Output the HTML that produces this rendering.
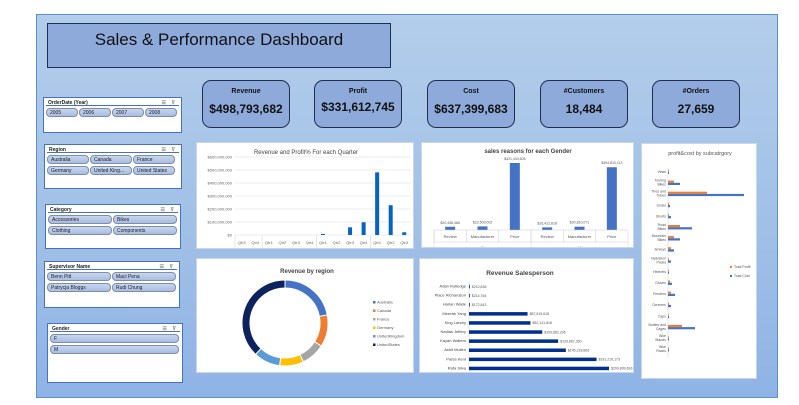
<!DOCTYPE html>
<html><head><meta charset="utf-8"><style>
*{box-sizing:border-box;margin:0;padding:0}
body{width:799px;height:405px;background:#fff;font-family:"Liberation Sans",sans-serif;position:relative;overflow:hidden}
.abs{position:absolute}
#panel{left:36px;top:14px;width:742px;height:384px;border:1px solid #5b8fd0;background:linear-gradient(#b3cdeb,#a0bfe6 60%,#8fb3e6)}
#title{left:47px;top:23px;width:344px;height:45px;background:#8eaadb;border:1px solid #1f2f50;font-size:17px;text-align:center;padding-top:6px;color:#111}
.kpi{width:88px;height:48px;background:#8eaadb;border:1px solid #1f2f50;border-radius:9px;text-align:center;color:#111}
.kpi b{display:block;font-size:7px;margin-top:7px}
.kpi span{display:block;font-size:12px;font-weight:bold;margin-top:7px}
.slicer{background:#fff;border:1px solid #4472c4;font-size:5px;color:#222}
.slicer .hd{font-weight:bold;height:8px;padding:2px 2px;border-bottom:1px solid #4472c4;margin:0 2px}
.slicer .hd i{float:right;font-style:normal;color:#888;letter-spacing:2px}
.btns{display:flex;flex-wrap:wrap;gap:2px 1px;padding:2px 2px}
.btn{height:9px;border:1px solid #7f8ea8;border-radius:4px;background:linear-gradient(#c8d6ee,#a8bde2);font-size:5px;padding:1px 3px;white-space:nowrap;overflow:hidden}
.card{background:#fff;border:1px solid #c9d6ea}
svg text{font-family:"Liberation Sans",sans-serif}
</style></head><body>
<div id="panel" class="abs"></div>
<div id="title" class="abs">Sales &amp; Performance Dashboard</div>

<div class="abs kpi" style="left:202px;top:80px"><b>Revenue</b><span>$498,793,682</span></div>
<div class="abs kpi" style="left:314px;top:80px"><b>Profit</b><span style="margin-top:5px">$331,612,745</span></div>
<div class="abs kpi" style="left:427px;top:80px"><b>Cost</b><span>$637,399,683</span></div>
<div class="abs kpi" style="left:540px;top:80px"><b>#Customers</b><span>18,484</span></div>
<div class="abs kpi" style="left:652px;top:80px"><b>#Orders</b><span>27,659</span></div>

<div class="abs slicer" style="left:43px;top:97px;width:139px;height:36px">
<div class="hd">OrderDate (Year)<i>☰ ⊽</i></div>
<div class="btns"><div class="btn" style="width:32px">2005</div><div class="btn" style="width:32px">2006</div><div class="btn" style="width:32px">2007</div><div class="btn" style="width:32px">2008</div></div></div>

<div class="abs slicer" style="left:44px;top:144px;width:138px;height:45px">
<div class="hd">Region<i>☰ ⊽</i></div>
<div class="btns"><div class="btn" style="width:42px">Australia</div><div class="btn" style="width:42px">Canada</div><div class="btn" style="width:42px">France</div><div class="btn" style="width:42px">Germany</div><div class="btn" style="width:42px">United King...</div><div class="btn" style="width:42px">United States</div></div></div>

<div class="abs slicer" style="left:45px;top:204px;width:136px;height:45px">
<div class="hd">Category<i>☰ ⊽</i></div>
<div class="btns"><div class="btn" style="width:64px">Accessories</div><div class="btn" style="width:64px">Bikes</div><div class="btn" style="width:64px">Clothing</div><div class="btn" style="width:64px">Components</div></div></div>

<div class="abs slicer" style="left:44px;top:261px;width:136px;height:47px">
<div class="hd">Supervisor Name<i>☰ ⊽</i></div>
<div class="btns"><div class="btn" style="width:64px">Benn Pitt</div><div class="btn" style="width:64px">Maci Pena</div><div class="btn" style="width:64px">Patrycja Bloggs</div><div class="btn" style="width:64px">Rudi Chung</div></div></div>

<div class="abs slicer" style="left:47px;top:323px;width:136px;height:60px">
<div class="hd">Gender<i>☰ ⊽</i></div>
<div class="btns"><div class="btn" style="width:129px">F</div><div class="btn" style="width:129px">M</div></div></div>

<svg class="abs card" style="left:196px;top:142px" width="218" height="107" id="q"></svg>
<svg class="abs card" style="left:421px;top:142px" width="213" height="106" id="g"></svg>
<svg class="abs card" style="left:196px;top:258px" width="218" height="115" id="d"></svg>
<svg class="abs card" style="left:419px;top:258px" width="215" height="115" id="s"></svg>
<svg class="abs card" style="left:641px;top:143px" width="116" height="236" id="c"></svg>

<script>
const qYears=["2005","2006","2007","2008"];
const qCounts=[2,4,4,3];
const qLabels=["Qtr3","Qtr4","Qtr1","Qtr2","Qtr3","Qtr4","Qtr1","Qtr2","Qtr3","Qtr4","Qtr1","Qtr2","Qtr3"];
const qValues=[0,0,0,0,0,0,8,0,59,98,482,229,21];
const qTicks=[0,100,200,300,400,500,600];

const gGroups=["F","M"];
const gReasons=["Review","Manufacturer","Price"];
const gValues=[20438486,22509002,421434605,16412818,20810071,394810113];

const regNames=["Australia","Canada","France","Germany","United Kingdom","United States"];
const regValues=[22,12,9,9,10,38];

const spNames=["Adah Rutledge","Place Richardson","Harlan Wade","Meerab Yang","King Landry","Nadias Jeffery","Kayan Walters","Ashif Mullen","Parsa Kent","Rafa Silva"];
const spValues=[210836,214764,172843,87815818,92141818,109882295,133667350,145218863,191210173,209899693];

const subNames=["Vests","Touring Bikes","Tires and Tubes","Socks","Shorts","Road Bikes","Mountain Bikes","Jerseys","Hydration Packs","Helmets","Gloves","Fenders","Cleaners","Caps","Bottles and Cages","Bike Stands","Bike Racks"];
const subProfit=[0.3,6,39,1,1,12,6,3,1,0.5,2,3,1,0.5,14,0.5,0.5];
const subCost=[1,12,76,2,3,24,12,6,3,1,4,7,3,1,27,1,1];

const NS="http://www.w3.org/2000/svg";
function el(p,t,a,txt){const e=document.createElementNS(NS,t);for(const k in a)e.setAttribute(k,a[k]);if(txt!==undefined)e.textContent=txt;p.appendChild(e);return e;}
function fmt(v){return "$"+Math.round(v).toLocaleString("en-US");}

// Quarter chart
(function(){const s=document.getElementById("q");
let t=el(s,"text",{x:109,y:11,"font-size":6,"text-anchor":"middle",fill:"#444"},"Revenue and Profit% For each Quarter");

const x0=38,x1=214,y0=92,yT=14;const ys=v=>y0-(v/600)*(y0-yT);
qTicks.forEach(v=>{el(s,"line",{x1:x0,x2:x1,y1:ys(v),y2:ys(v),stroke:"#ddd","stroke-width":0.5});
 let l=el(s,"text",{x:x0-3,y:ys(v)+1.5,"font-size":4,"text-anchor":"end",fill:"#666"},v==0?"$0":"$"+v+",000,000");
 });
const bw=(x1-x0)/qLabels.length;
qValues.forEach((v,i)=>{const cx=x0+bw*(i+0.5);
 const b=el(s,"rect",{x:cx-2,y:ys(v),width:4,height:y0-ys(v),fill:"#0563c1"});
 
 el(s,"text",{x:cx,y:y0+9,"font-size":4,"text-anchor":"middle",fill:"#666"},qLabels[i]);});
el(s,"line",{x1:x0,x2:x1,y1:y0+14,y2:y0+14,stroke:"#ccc","stroke-width":0.5});
let k=0;qYears.forEach((yr,j)=>{const a=x0+bw*k,b=x0+bw*(k+qCounts[j]);
 el(s,"line",{x1:a,x2:a,y1:y0,y2:107,stroke:"#ccc","stroke-width":0.5});
 el(s,"text",{x:(a+b)/2,y:y0+19,"font-size":4,"text-anchor":"middle",fill:"#888"},yr);k+=qCounts[j];});
})();

// Gender chart
(function(){const s=document.getElementById("g");
let t=el(s,"text",{x:106,y:10,"font-size":6,"text-anchor":"middle","font-weight":"bold",fill:"#444"},"sales reasons for each Gender");

const x0=12,x1=206,y0=87,yT=20;const mx=421434605;const ys=v=>y0-(v/mx)*(y0-yT);
const n=gValues.length,bw=(x1-x0)/n;
gValues.forEach((v,i)=>{const cx=x0+bw*(i+0.5);
 const b=el(s,"rect",{x:cx-5,y:ys(v),width:10,height:y0-ys(v),fill:"#4472c4"});
 
 el(s,"text",{x:cx,y:ys(v)-3,"font-size":3.5,"text-anchor":"middle",fill:"#555"},fmt(v));
 el(s,"text",{x:cx,y:y0+8,"font-size":4,"text-anchor":"middle",fill:"#555"},gReasons[i%3]);
 el(s,"line",{x1:x0+bw*i,x2:x0+bw*i,y1:y0,y2:y0+12,stroke:"#ccc","stroke-width":0.5});});
el(s,"line",{x1:x0,x2:x1,y1:y0,y2:y0,stroke:"#ccc","stroke-width":0.5});
el(s,"line",{x1:x0,x2:x1,y1:y0+12,y2:y0+12,stroke:"#ccc","stroke-width":0.5});
gGroups.forEach((g,j)=>{el(s,"text",{x:x0+bw*(3*j+1.5),y:y0+19,"font-size":4,"text-anchor":"middle",fill:"#555"},g);
 el(s,"line",{x1:x0+bw*3*j,x2:x0+bw*3*j,y1:y0,y2:105,stroke:"#ccc","stroke-width":0.5});});
el(s,"line",{x1:x1,x2:x1,y1:y0,y2:105,stroke:"#ccc","stroke-width":0.5});
})();

// Donut
(function(){const s=document.getElementById("d");
let t=el(s,"text",{x:110,y:14,"font-size":6,"text-anchor":"middle","font-weight":"bold",fill:"#444"},"Revenue by region");

const cols=["#4472c4","#ed7d31","#a5a5a5","#ffc000","#5b9bd5","#0f2260"];
const cx=88,cy=64,R=43,r=35;const tot=regValues.reduce((a,b)=>a+b,0);let a=-Math.PI/2;
regValues.forEach((v,i)=>{const a2=a+v/tot*2*Math.PI;const L=a2-a>Math.PI?1:0;
 const p=(rr,ang)=>(cx+rr*Math.cos(ang)).toFixed(2)+" "+(cy+rr*Math.sin(ang)).toFixed(2);
 const e=el(s,"path",{d:`M${p(R,a)} A${R} ${R} 0 ${L} 1 ${p(R,a2)} L${p(r,a2)} A${r} ${r} 0 ${L} 0 ${p(r,a)} Z`,fill:cols[i],stroke:"#fff","stroke-width":1});
 a=a2;
 el(s,"rect",{x:176,y:42+i*8.5,width:2.5,height:2.5,fill:cols[i]});
 const lt=el(s,"text",{x:180,y:44.5+i*8.5,"font-size":4,fill:"#555"},regNames[i].replace(" ",""));
 });
})();

// Salesperson
(function(){const s=document.getElementById("s");
let t=el(s,"text",{x:100,y:16,"font-size":6.5,"text-anchor":"middle","font-weight":"bold",fill:"#444"},"Revenue Salesperson");

const x0=49,W=140,mx=209899693,top=25,step=9.1;
el(s,"line",{x1:x0,x2:x0,y1:top-2,y2:top+step*spNames.length,stroke:"#ccc","stroke-width":0.5});
spNames.forEach((n,i)=>{const y=top+step*i;const w=spValues[i]/mx*W;
 el(s,"text",{x:x0-3,y:y+3.5,"font-size":4,"text-anchor":"end",fill:"#444"},n);
 const b=el(s,"rect",{x:x0,y:y+0.8,width:Math.max(w,0.8),height:3.5,fill:"#002f8e"});
 
 el(s,"text",{x:x0+Math.max(w,0.8)+2,y:y+3.8,"font-size":3.5,fill:"#555"},fmt(spValues[i]));});
})();

// Subcategory
(function(){const s=document.getElementById("c");
let t=el(s,"text",{x:58,y:11,"font-size":5.5,"text-anchor":"middle",fill:"#555"},"profit&cost by subcatrgory");

const x0=26,mx=76,W=76,top=28,step=11.1;
el(s,"line",{x1:x0,x2:x0,y1:top-4,y2:top+step*subNames.length-4,stroke:"#ccc","stroke-width":0.5});
subNames.forEach((n,i)=>{const y=top+step*i;
 const words=n.split(" ");const l1=words.length>1?words.slice(0,Math.ceil(words.length/2)).join(" "):n;const l2=words.length>1?words.slice(Math.ceil(words.length/2)).join(" "):"";
 el(s,"text",{x:x0-2,y:l2?y-1.5:y+1,"font-size":3.5,"text-anchor":"end",fill:"#555"},l1);
 if(l2)el(s,"text",{x:x0-2,y:y+2.5,"font-size":3.5,"text-anchor":"end",fill:"#555"},l2);
 const b1=el(s,"rect",{x:x0,y:y-2.5,width:Math.max(subProfit[i]/mx*W,0.7),height:2.2,fill:"#ed7d31"});
 
 const b2=el(s,"rect",{x:x0,y:y-0.3,width:Math.max(subCost[i]/mx*W,0.7),height:2.2,fill:"#4472c4"});
 });
el(s,"rect",{x:88,y:122,width:2,height:2,fill:"#ed7d31"});
let a=el(s,"text",{x:92,y:124,"font-size":3.5,fill:"#555"},"Total Profit");
el(s,"rect",{x:88,y:131,width:2,height:2,fill:"#4472c4"});
let b=el(s,"text",{x:92,y:133,"font-size":3.5,fill:"#555"},"Total Cost");
})();
</script>
</body></html>
